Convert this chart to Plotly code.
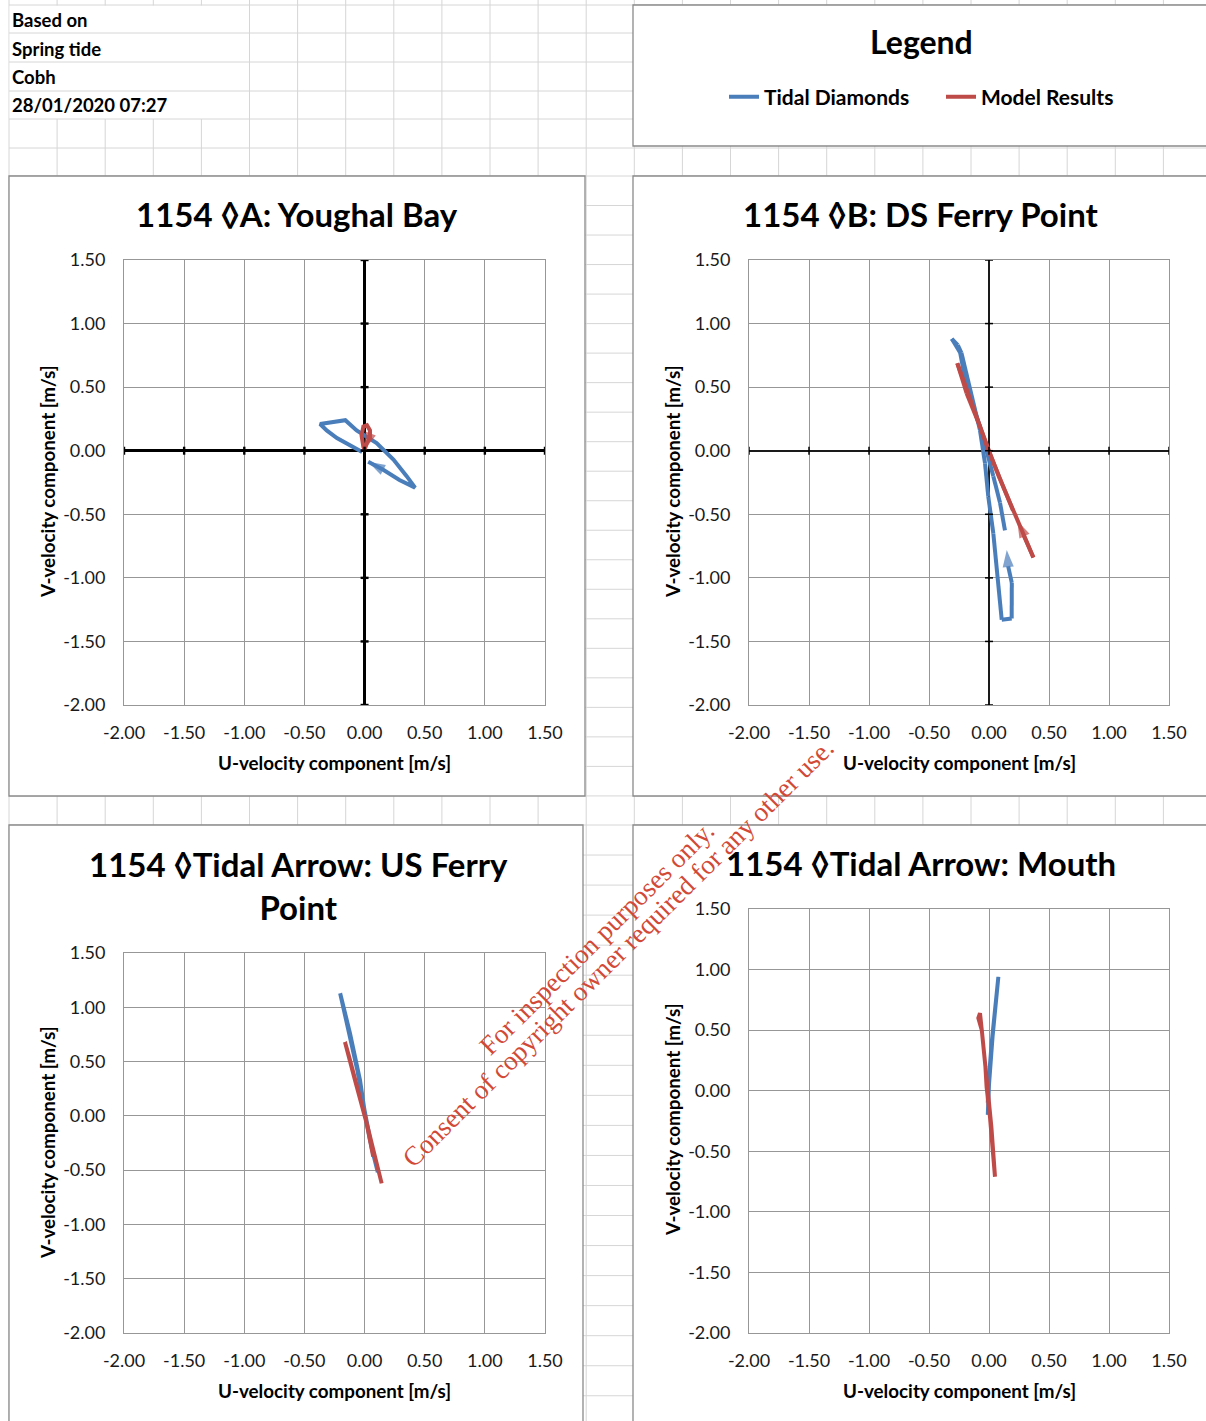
import plotly.graph_objects as go

W, H = 1206, 1421
FONT = "Lato"
BLUE = "#4a7ebb"
RED = "#be4b48"
GRID = "#979797"
CELL = "#d6d6d6"
PANEL_EDGE = "#8a8a8a"

# ---------------- data ----------------
TICK_VALS = [-2.0, -1.5, -1.0, -0.5, 0.0, 0.5, 1.0, 1.5]
TICK_TEXT = ["-2.00", "-1.50", "-1.00", "-0.50", "0.00", "0.50", "1.00", "1.50"]

header_lines = ["Based on", "Spring tide", "Cobh", "28/01/2020 07:27"]
series_names = ["Tidal Diamonds", "Model Results"]

titles = [
    "1154 \u25caA: Youghal Bay",
    "1154 \u25caB: DS Ferry Point",
    "1154 \u25caTidal Arrow: US Ferry<br>Point",
    "1154 \u25caTidal Arrow: Mouth",
]
x_title = "U-velocity component [m/s]"
y_title = "V-velocity component [m/s]"

# A: Youghal Bay
youghal_td_u = [-0.02, -0.12, -0.23, -0.315, -0.37, -0.16, -0.066, 0.10, 0.24, 0.35, 0.42, 0.29, 0.155, 0.03]
youghal_td_v = [-0.01, 0.045, 0.10, 0.16, 0.21, 0.24, 0.16, 0.06, -0.07, -0.20, -0.29, -0.23, -0.15, -0.087]
youghal_mr_u = [0.003, -0.01, -0.025, -0.01, 0.02, 0.045, 0.045, 0.02, 0.0]
youghal_mr_v = [0.005, 0.03, 0.12, 0.19, 0.20, 0.16, 0.10, 0.06, 0.01]

# B: DS Ferry Point
dsferry_td_u = [0.133, 0.092, 0.036, -0.019, -0.075, -0.186, -0.24, -0.31, -0.26, -0.23, -0.144,
                -0.075, -0.033, -0.006, 0.036, 0.078, 0.106, 0.189, 0.19, 0.16, 0.148]
dsferry_td_v = [-0.627, -0.41, -0.20, -0.02, 0.19, 0.50, 0.77, 0.88, 0.83, 0.77, 0.42,
                0.16, -0.10, -0.36, -0.65, -1.02, -1.33, -1.32, -1.04, -0.91, -0.78]
dsferry_mr_u = [0.20, 0.092, -0.006, -0.075, -0.186, -0.264, -0.18, -0.07, 0.0, 0.09, 0.37, 0.30, 0.235]
dsferry_mr_v = [-0.47, -0.23, 0.005, 0.19, 0.45, 0.688, 0.46, 0.18, 0.0, -0.22, -0.84, -0.68, -0.55]

# C: Tidal Arrow, US Ferry Point
usferry_td_u = [0.05, 0.003, -0.038, -0.121, -0.203, -0.15, -0.06, 0.0, 0.06, 0.11]
usferry_td_v = [-0.25, 0.024, 0.33, 0.76, 1.129, 0.88, 0.42, 0.05, -0.30, -0.52]
usferry_mr_u = [0.072, 0.017, -0.08, -0.121, -0.163, -0.13, -0.07, -0.02, 0.03, 0.059, 0.09, 0.114, 0.142]
usferry_mr_v = [-0.376, -0.069, 0.33, 0.516, 0.68, 0.55, 0.30, 0.10, -0.12, -0.253, -0.40, -0.50, -0.622]

# D: Tidal Arrow, Mouth
mouth_td_u = [-0.01, -0.006, 0.022, 0.05, 0.078, 0.06, 0.03, 0.0, -0.01]
mouth_td_v = [-0.10, 0.033, 0.39, 0.666, 0.94, 0.75, 0.45, 0.05, -0.20]
mouth_mr_u = [-0.03, -0.02, 0.008, 0.022, 0.036, 0.05, 0.04, 0.02, -0.01, -0.04, -0.06, -0.089, -0.075, -0.06, -0.04]
mouth_mr_v = [0.20, 0.03, -0.215, -0.41, -0.57, -0.71, -0.60, -0.30, 0.0, 0.30, 0.50, 0.60, 0.64, 0.50, 0.30]

watermark = ["For inspection purposes only.",
             "Consent of copyright owner required for any other use."]


# ---------------- helpers ----------------
def px(x):
    return x / W


def py(y):
    return 1 - y / H


# sheet geometry (pixels)
col_lines = [9 + 48.1 * k for k in range(26)]
row_lines = [5, 33, 62, 91, 119, 148, 176]
row_lines += [176 + 29.52 * k for k in range(1, 22)]
row_lines += [825 + 30.04 * k for k in range(0, 20)]

panels = [
    (633, 5, 1215, 146),    # legend
    (9, 176, 585, 796),     # A
    (633, 176, 1215, 796),  # B
    (9, 825, 583, 1430),    # C
    (633, 825, 1215, 1430), # D
]

# plot areas (pixels): x0, x1, y_top, y_bottom
plot_boxes = [
    (124, 545, 260, 705),
    (749, 1169, 260, 705),
    (124, 545, 953, 1333),
    (749, 1169, 909, 1333),
]

shapes = []
for x in col_lines:
    shapes.append(dict(type="line", xref="paper", yref="paper", x0=px(x), x1=px(x), y0=0, y1=1,
                       line=dict(color=CELL, width=1), layer="below"))
# merged header cells
shapes.append(dict(type="rect", xref="paper", yref="paper", x0=px(9.6), x1=px(248.9), y0=py(119), y1=py(5.5),
                   fillcolor="white", line=dict(width=0), layer="below"))
for y in row_lines:
    shapes.append(dict(type="line", xref="paper", yref="paper", x0=px(9), x1=1, y0=py(y), y1=py(y),
                       line=dict(color=CELL, width=1), layer="below"))
for (x0, y0, x1, y1) in panels:
    shapes.append(dict(type="rect", xref="paper", yref="paper", x0=px(x0), x1=px(x1), y0=py(y1), y1=py(y0),
                       fillcolor="white", line=dict(color=PANEL_EDGE, width=1.3), layer="below"))

fig = go.Figure()

series = [
    (youghal_td_u, youghal_td_v, youghal_mr_u, youghal_mr_v, True),
    (dsferry_td_u, dsferry_td_v, dsferry_mr_u, dsferry_mr_v, True),
    (usferry_td_u, usferry_td_v, usferry_mr_u, usferry_mr_v, False),
    (mouth_td_u, mouth_td_v, mouth_mr_u, mouth_mr_v, False),
]

for i, (tu, tv, mu, mv, arrows) in enumerate(series):
    xa = "x" if i == 0 else f"x{i + 1}"
    ya = "y" if i == 0 else f"y{i + 1}"
    for j, (u, v, col) in enumerate([(tu, tv, BLUE), (mu, mv, RED)]):
        n = len(u)
        sizes = [0] * (n - 1) + [18 if arrows else 0]
        fig.add_trace(go.Scatter(
            x=u, y=v, xaxis=xa, yaxis=ya, mode="lines+markers",
            name=series_names[j], showlegend=(i == 0),
            line=dict(color=col, width=4),
            marker=dict(symbol="arrow", angleref="previous", size=sizes, color=col,
                        line=dict(width=0)),
            hoverinfo="skip",
        ))

axis_common = dict(
    range=[-2, 1.5], tickvals=TICK_VALS, ticktext=TICK_TEXT,
    showgrid=True, gridcolor=GRID, gridwidth=1,
    showline=True, linecolor=GRID, linewidth=1, mirror=True,
    ticks="", tickfont=dict(family=FONT, size=18, color="#1a1a1a"),
    fixedrange=True, automargin=False,
)

zero_style = [
    dict(zeroline=True, zerolinecolor="black", zerolinewidth=2.6),
    dict(zeroline=True, zerolinecolor="#1a1a1a", zerolinewidth=1.5),
    dict(zeroline=False),
    dict(zeroline=False),
]

layout_axes = {}
for i, (x0, x1, yt, yb) in enumerate(plot_boxes):
    sx = "" if i == 0 else str(i + 1)
    layout_axes[f"xaxis{sx}"] = dict(axis_common, domain=[px(x0), px(x1)], anchor=f"y{sx}",
                                     ticklabelstandoff=11, **zero_style[i])
    layout_axes[f"yaxis{sx}"] = dict(axis_common, domain=[py(yb), py(yt)], anchor=f"x{sx}",
                                     ticklabelstandoff=14, **zero_style[i])

# cross tick marks on the zero axes of the first two charts
for i, (tlen, tw) in enumerate([(4, 2.4), (4, 1.5)]):
    sx = "" if i == 0 else str(i + 1)
    for t in TICK_VALS:
        shapes.append(dict(type="line", xref=f"x{sx}", yref=f"y{sx}", x0=t, x1=t,
                           ysizemode="pixel", yanchor=0, y0=-tlen, y1=tlen,
                           line=dict(color="black", width=tw), layer="above"))
        shapes.append(dict(type="line", xref=f"x{sx}", yref=f"y{sx}", y0=t, y1=t,
                           xsizemode="pixel", xanchor=0, x0=-tlen, x1=tlen,
                           line=dict(color="black", width=tw), layer="above"))

annotations = []
# header block
for k, (txt, yc) in enumerate(zip(header_lines, [20, 49, 77, 105])):
    annotations.append(dict(text=txt, xref="paper", yref="paper", x=px(10), y=py(yc),
                            xanchor="left", yanchor="middle", showarrow=False,
                            font=dict(family=FONT, size=18.5, color="black", weight="bold")))
# legend title
annotations.append(dict(text="Legend", xref="paper", yref="paper", x=px(921), y=py(42),
                        xanchor="center", yanchor="middle", showarrow=False,
                        font=dict(family=FONT, size=32, color="black", weight="bold")))
# chart titles
title_pos = [(297, 214), (921, 214), (298, 885), (921, 863)]
for txt, (xc, yc) in zip(titles, title_pos):
    annotations.append(dict(text=txt, xref="paper", yref="paper", x=px(xc), y=py(yc),
                            xanchor="center", yanchor="middle", showarrow=False,
                            font=dict(family=FONT, size=33, color="black", weight="bold")))
# axis titles
xt_pos = [(334, 762), (959, 762), (334, 1390), (959, 1390)]
yt_pos = [(47, 482), (672, 482), (47, 1143), (672, 1120)]
for (xc, yc) in xt_pos:
    annotations.append(dict(text=x_title, xref="paper", yref="paper", x=px(xc), y=py(yc),
                            xanchor="center", yanchor="middle", showarrow=False,
                            font=dict(family=FONT, size=18.8, color="black", weight="bold")))
for (xc, yc) in yt_pos:
    annotations.append(dict(text=y_title, xref="paper", yref="paper", x=px(xc), y=py(yc),
                            xanchor="center", yanchor="middle", showarrow=False, textangle=-90,
                            font=dict(family=FONT, size=18.8, color="black", weight="bold")))
# diagonal notice
for txt, (xc, yc) in zip(watermark, [(597, 938), (618, 953)]):
    annotations.append(dict(text=txt, xref="paper", yref="paper", x=px(xc), y=py(yc),
                            xanchor="center", yanchor="middle", showarrow=False, textangle=-44.8,
                            font=dict(family="Liberation Serif", size=27, color="#d24a37")))

fig.update_layout(
    width=W, height=H, autosize=False,
    margin=dict(l=0, r=0, t=0, b=0, autoexpand=False),
    paper_bgcolor="white", plot_bgcolor="rgba(0,0,0,0)",
    shapes=shapes, annotations=annotations,
    showlegend=True,
    legend=dict(orientation="h", x=px(724), y=py(97), xanchor="left", yanchor="middle",
                font=dict(family=FONT, size=21, color="black", weight="bold"),
                bgcolor="rgba(0,0,0,0)", itemwidth=30, entrywidth=172, tracegroupgap=0),
    **layout_axes,
)

fig.write_html("out.html")
